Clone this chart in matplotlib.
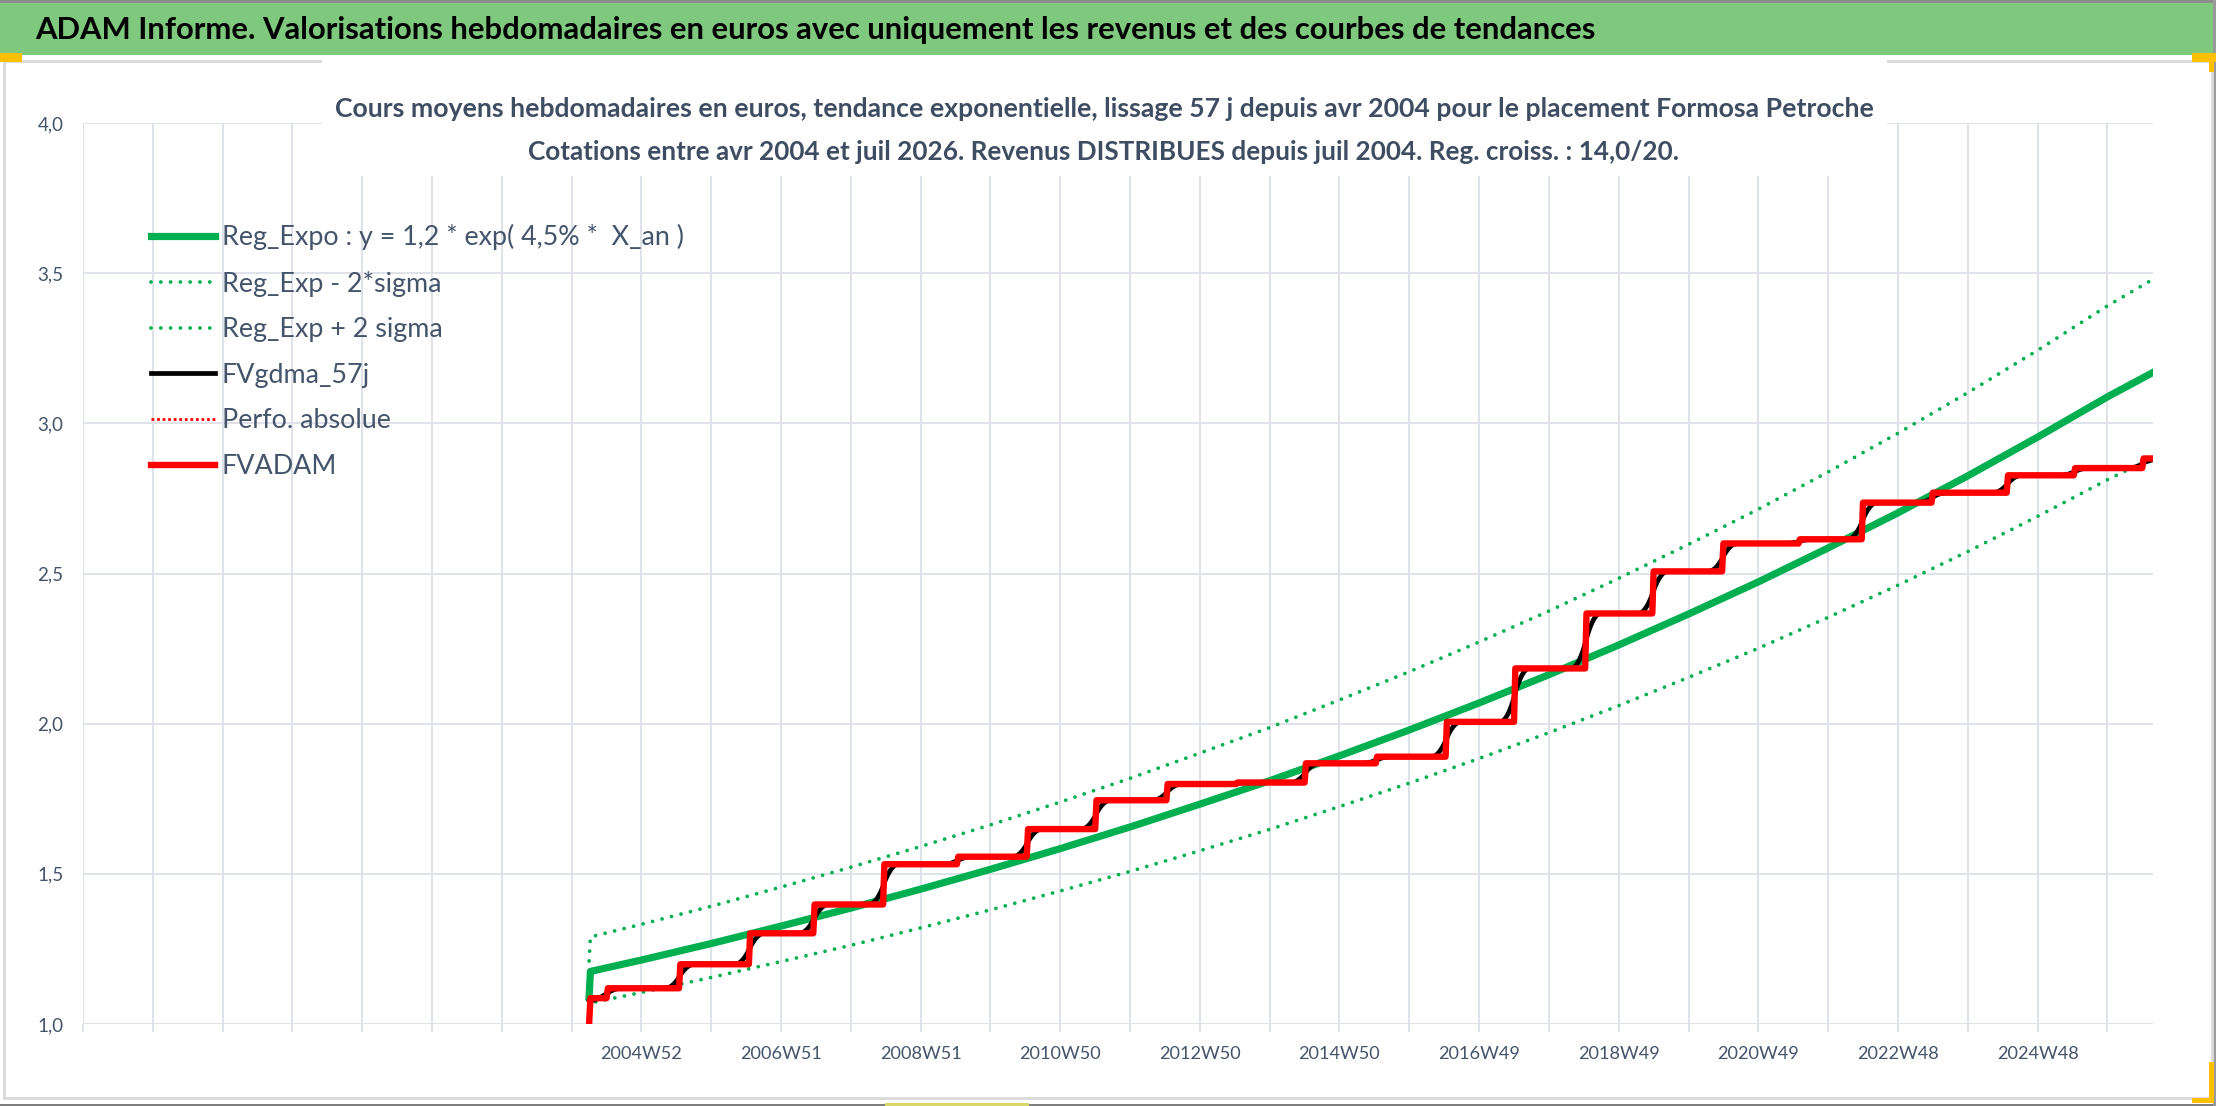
import numpy as np
import pandas as pd
import matplotlib
matplotlib.use("Agg")
import matplotlib.pyplot as plt
from matplotlib.patches import Rectangle

W, H = 2216, 1106
plt.rcParams['font.family'] = ['Lato', 'DejaVu Sans']

header = "ADAM Informe. Valorisations hebdomadaires en euros avec uniquement les revenus et des courbes de tendances"
subtitle1 = "Cours moyens hebdomadaires en euros, tendance exponentielle, lissage 57 j depuis avr 2004 pour le placement Formosa Petroche"
subtitle2 = "Cotations entre avr 2004 et juil 2026. Revenus DISTRIBUES depuis juil 2004. Reg. croiss. : 14,0/20."

# category axis in weeks, a gridline every 52 weeks
n_weeks = 1542
tick_step = 52
label_weeks = [416, 520, 624, 728, 832, 936, 1040, 1144, 1248, 1352, 1456]
x_labels = ['2004W52', '2006W51', '2008W51', '2010W50', '2012W50', '2014W50',
            '2016W49', '2018W49', '2020W49', '2022W48', '2024W48']
y_ticks = [1.0, 1.5, 2.0, 2.5, 3.0, 3.5, 4.0]
y_labels = ['1,0', '1,5', '2,0', '2,5', '3,0', '3,5', '4,0']

# FVADAM : week where each level starts
step_weeks = [377, 378, 391, 445, 497, 545, 597, 652, 704, 755, 808, 860, 911,
              964, 1016, 1067, 1120, 1170, 1222, 1279, 1326, 1378, 1434, 1484, 1535]
step_levels = [1.000, 1.086, 1.119, 1.199, 1.302, 1.398, 1.532, 1.557, 1.649,
               1.745, 1.799, 1.804, 1.868, 1.890, 2.006, 2.184, 2.367, 2.507,
               2.600, 2.614, 2.736, 2.769, 2.827, 2.851, 2.883]
last_week = 1541

# trend curves read at start, at each yearly gridline and at the end
trend_weeks = [377, 378] + list(range(416, 1509, 52)) + [1541]
reg_expo = [1.090, 1.175, 1.213, 1.268, 1.326, 1.386, 1.449, 1.515, 1.584, 1.656,
            1.732, 1.810, 1.893, 1.979, 2.069, 2.163, 2.262, 2.365, 2.472, 2.585,
            2.702, 2.825, 2.954, 3.088, 3.167]
reg_plus = [1.210, 1.290, 1.332, 1.392, 1.456, 1.522, 1.591, 1.663, 1.739, 1.818,
            1.902, 1.987, 2.079, 2.173, 2.272, 2.375, 2.484, 2.597, 2.714, 2.838,
            2.967, 3.102, 3.243, 3.391, 3.477]
reg_minus = [0.990, 1.070, 1.105, 1.155, 1.208, 1.262, 1.320, 1.380, 1.443, 1.508,
             1.577, 1.648, 1.724, 1.802, 1.884, 1.970, 2.060, 2.154, 2.251, 2.354,
             2.461, 2.573, 2.690, 2.812, 2.884]

weeks = np.arange(step_weeks[0], last_week + 1)
fvadam = pd.Series(np.array(step_levels)[np.searchsorted(step_weeks, weeks, side='right') - 1], index=weeks)
# 57 day smoothing of the valuation
fvgdma = fvadam.rolling(11, center=True, min_periods=1).mean().rolling(11, center=True, min_periods=1).mean()

GREEN = '#00b050'
GRID = '#dfe2e8'
TXT = '#44546a'

fig = plt.figure(figsize=(W / 100, H / 100), dpi=100)


def rect(x0, y0, x1, y1, **kw):
    p = Rectangle((x0 / W, 1 - y1 / H), (x1 - x0) / W, (y1 - y0) / H,
                  transform=fig.transFigure, figure=fig, **kw)
    fig.patches.append(p)


def size_for(s, width, **kw):
    t = fig.text(0, 0, s, fontsize=10, **kw)
    w = t.get_window_extent(fig.canvas.get_renderer()).width
    t.remove()
    return 10 * width / w


# frame, header band, chart area, selection marks
rect(0, 3, W, 55, facecolor='#7ec97e', edgecolor='none', zorder=1)
rect(0, 0, W, 3, facecolor='#8c8c8c', edgecolor='none', zorder=1)
rect(0, H - 2, W, H, facecolor='#7f7f7f', edgecolor='none', zorder=1)
rect(W - 3, 0, W, H, facecolor='#9a9a9a', edgecolor='none', zorder=1)
rect(4, 61, 2212, 1098, facecolor='none', edgecolor='#d9d9d9', lw=2, zorder=1)
rect(0, 53, 22, 62, facecolor='#ffc000', edgecolor='none', zorder=2)
rect(2192, 53, 2216, 62, facecolor='#ffc000', edgecolor='none', zorder=2)
rect(2209, 62, 2214, 72, facecolor='#ffc000', edgecolor='none', zorder=2)
rect(2209, 1062, 2214, 1100, facecolor='#ffc000', edgecolor='none', zorder=2)
rect(2192, 1098, 2214, 1103, facecolor='#ffc000', edgecolor='none', zorder=2)
rect(885, 1103, 1029, 1106, facecolor='#d8d86a', edgecolor='none', zorder=2)

ax = fig.add_axes([83 / W, 1 - 1024 / H, (2153 - 83) / W, (1024 - 123) / H])
ax.set_xlim(0, n_weeks)
ax.set_ylim(1, 4)

dots = (0, (0.01, 2.6))
ax.plot(trend_weeks, reg_expo, color=GREEN, lw=5.2, label='Reg_Expo : y = 1,2 * exp( 4,5% *  X_an )', zorder=3)
ax.plot(trend_weeks, reg_minus, color=GREEN, lw=2.7, ls=dots, dash_capstyle='round',
        label='Reg_Exp - 2*sigma', zorder=2)
ax.plot(trend_weeks, reg_plus, color=GREEN, lw=2.7, ls=dots, dash_capstyle='round',
        label='Reg_Exp + 2 sigma', zorder=2)
ax.plot(fvgdma.index, fvgdma.values, color='black', lw=3.4, label='FVgdma_57j', zorder=4)
ax.plot(fvadam.index, fvadam.values, color='red', lw=2.0, ls=(0, (1, 1)), label='Perfo. absolue', zorder=4)
ax.plot(fvadam.index, fvadam.values, color='red', lw=4.6, label='FVADAM', zorder=5)

ticks = np.arange(0, n_weeks, tick_step)
ax.set_xticks(ticks)
ax.set_xticklabels([x_labels[label_weeks.index(t)] if t in label_weeks else '' for t in ticks])
ax.set_yticks(y_ticks)
ax.set_yticklabels(y_labels)
ax.grid(True, color=GRID, lw=1.4)
ax.set_axisbelow(True)
for s in ax.spines.values():
    s.set_visible(False)

fs_x = size_for('2004W52', 82)
fs_y = size_for('4,0', 26)
ax.tick_params(axis='x', length=6, width=1.4, color=GRID, pad=10, labelsize=fs_x, labelcolor=TXT)
ax.tick_params(axis='y', length=0, pad=14, labelsize=fs_y, labelcolor=TXT)

# white box behind the chart title
rect(322, 60, 1887, 176, facecolor='white', edgecolor='none', zorder=1)

fig.text(35 / W, 1 - 39 / H, header, ha='left', va='baseline', fontweight='bold',
         color='black', fontsize=size_for(header, 1568, fontweight='bold'), zorder=3)
fig.text(1104 / W, 1 - 117 / H, subtitle1, ha='center', va='baseline', fontweight='bold',
         color='#3f4d63', fontsize=size_for(subtitle1, 1545, fontweight='bold'), zorder=3)
fig.text(1104 / W, 1 - 160 / H, subtitle2, ha='center', va='baseline', fontweight='bold',
         color='#3f4d63', fontsize=size_for(subtitle2, 1153, fontweight='bold'), zorder=3)

# legend sized on the picture
handles, labels = ax.get_legend_handles_labels()
fs_leg = size_for(labels[0], 461)
fpx = fs_leg * 100 / 72


def make_legend(spacing, top):
    return ax.legend(handles, labels, loc='upper left', bbox_to_anchor=(151 / W, 1 - top / H),
                     bbox_transform=fig.transFigure, frameon=False, borderpad=0, borderaxespad=0,
                     fontsize=fs_leg, handlelength=64 / fpx, handletextpad=7 / fpx,
                     labelspacing=spacing, labelcolor=TXT)


leg = make_legend(0.5, 215)
fig.canvas.draw()
r = fig.canvas.get_renderer()
bb = [tx.get_window_extent(r) for tx in leg.get_texts()]
pitch = (bb[0].y0 - bb[-1].y0) / 5
spacing = 0.5 + (45.8 - pitch) / fpx
leg = make_legend(spacing, 215)
fig.canvas.draw()
bb0 = leg.get_texts()[0].get_window_extent(fig.canvas.get_renderer())
shift = (H - 237) - (bb0.y0 + bb0.y1) / 2
leg = make_legend(spacing, 215 - shift)

fig.savefig('out.png', dpi=100)
